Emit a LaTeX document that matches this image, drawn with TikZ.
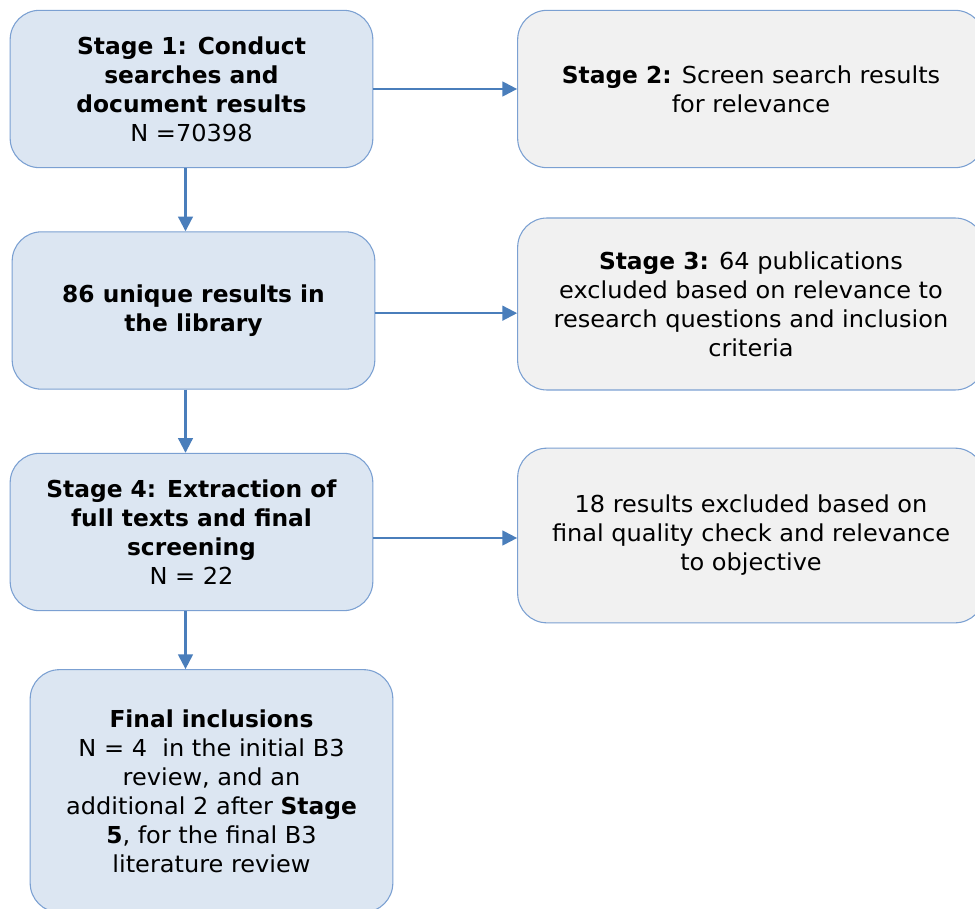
\documentclass[tikz,border=0pt]{standalone}
\usepackage{fontspec}
\setmainfont{DejaVu Sans}[FakeStretch=1.03, BoldFeatures={FakeStretch=1.0}]
\usetikzlibrary{arrows.meta}
\definecolor{boxline}{HTML}{7BA0D2}
\definecolor{leftfill}{HTML}{DCE6F2}
\definecolor{rightfill}{HTML}{F1F1F1}
\definecolor{arrowcol}{HTML}{4A7EBB}
\begin{document}
\begin{tikzpicture}[x=0.75pt, y=-0.75pt,
  stagebox/.style={shape=rectangle, rounded corners=22pt, draw=boxline, line width=0.8pt, align=center,
    font=\fontsize{17.5}{21.75}\selectfont, inner sep=0pt},
  leftbox/.style={stagebox, fill=leftfill, minimum width=272pt},
  rightbox/.style={stagebox, fill=rightfill, minimum width=350pt},
  flow/.style={-{Triangle[length=11pt,width=11pt]}, draw=arrowcol, line width=1.6pt}]
\useasboundingbox (0,0) rectangle (975,909);
\node[leftbox, minimum height=118pt] (s1) at (191.5,89) {\textbf{Stage 1: Conduct}\\ \textbf{searches and}\\ \textbf{document results}\\ N =70398};
\node[rightbox, minimum height=118pt] (s2) at (751,89) {\textbf{Stage 2:} Screen search results\\ for relevance};
\node[leftbox, minimum height=118pt] (lib) at (193.5,310.5) {\textbf{86 unique results in}\\ \textbf{the library}};
\node[rightbox, minimum height=129pt] (s3) at (751,304) {\textbf{Stage 3:} 64 publications\\ excluded based on relevance to\\ research questions and inclusion\\ criteria};
\node[leftbox, minimum height=118pt] (s4) at (191.5,532) {\textbf{Stage 4: Extraction of}\\ \textbf{full texts and final}\\ \textbf{screening}\\ N = 22};
\node[rightbox, minimum height=131pt] (excl) at (751,535.5) {18 results excluded based on\\ final quality check and relevance\\ to objective};
\node[leftbox, minimum height=182pt] (final) at (211.5,791) {\textbf{Final inclusions}\\ N = 4 \ in the initial B3\\ review, and an\\ additional 2 after \textbf{Stage}\\ \textbf{5}, for the final B3\\ literature review};
\path (s1) edge[flow] (s2);
\path ([yshift=-2pt]lib.east) edge[flow] ([yshift=-2pt]lib.east -| s3.west);
\path ([yshift=-4.5pt]s4.east) edge[flow] ([yshift=-4.5pt]s4.east -| excl.west);
\path ([xshift=-4.5pt]s1.south) edge[flow] ([xshift=-4.5pt]s1.south |- lib.north);
\path ([xshift=-6pt]lib.south) edge[flow] ([xshift=-6pt]lib.south |- s4.north);
\path ([xshift=-4.5pt]s4.south) edge[flow] ([xshift=-4.5pt]s4.south |- final.north);
\end{tikzpicture}
\end{document}
